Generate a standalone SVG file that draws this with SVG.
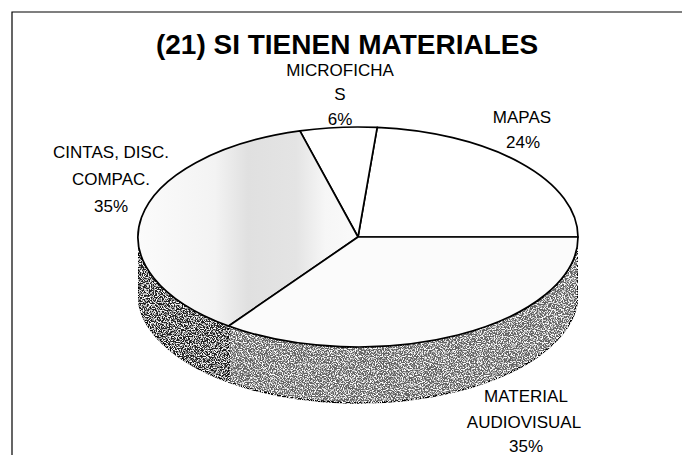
<svg xmlns="http://www.w3.org/2000/svg" width="682" height="455" viewBox="0 0 682 455">
<style>
.t{font-family:"Liberation Sans",Arial,sans-serif;fill:#000}
.title{font-size:28px;font-weight:bold}
.lbl{font-size:17px}
.edge{stroke:#000;stroke-width:1.7;stroke-linejoin:round}
</style>
<defs>
<linearGradient id="cintasG" x1="138" y1="0" x2="358" y2="0" gradientUnits="userSpaceOnUse">
<stop offset="0" stop-color="#fbfbfb"/>
<stop offset="0.35" stop-color="#f3f3f3"/>
<stop offset="0.5" stop-color="#e0e0e0"/>
<stop offset="0.72" stop-color="#e4e4e4"/>
<stop offset="0.85" stop-color="#f6f6f6"/>
<stop offset="1" stop-color="#fafafa"/>
</linearGradient>
<filter id="speck" x="0" y="0" width="100%" height="100%">
<feTurbulence type="fractalNoise" baseFrequency="0.85" numOctaves="2" seed="7" result="n"/>
<feColorMatrix in="n" type="matrix" values="0 0 0 0 1  0 0 0 0 1  0 0 0 0 1  5 0 0 0 -2.3" result="w"/>
<feComposite in="w" in2="SourceGraphic" operator="in" result="wc"/>
<feMerge><feMergeNode in="SourceGraphic"/><feMergeNode in="wc"/></feMerge>
</filter>
</defs>
<g id="frame"><path d="M12,455 L12,12 L682,12" fill="none" stroke="#000" stroke-width="1.2"/></g>
<g id="title"><text class="t title" x="347" y="54" text-anchor="middle">(21) SI TIENEN MATERIALES</text></g>
<g id="connectors"></g>
<g id="side-cintas"><path class="edge" d="M138,237 A220,110 0 0 0 228.7,326 L228.7,382 A220,110 0 0 1 138,293 Z" fill="#222" filter="url(#speck)"/></g>
<g id="side-audiovisual"><path class="edge" d="M228.7,326 A220,110 0 0 0 578,237 L578,293 A220,110 0 0 1 228.7,382 Z" fill="#646464" filter="url(#speck)"/></g>
<g id="slice-mapas"><path class="edge" d="M358,237 L578,237 A220,110 0 0 0 377.2,127.4 Z" fill="#fff"/></g>
<g id="slice-microfichas"><path class="edge" d="M358,237 L377.2,127.4 A220,110 0 0 0 299.9,130.9 Z" fill="#fff"/></g>
<g id="slice-cintas"><path class="edge" d="M358,237 L299.9,130.9 A220,110 0 0 0 228.7,326 Z" fill="url(#cintasG)"/></g>
<g id="slice-audiovisual"><path class="edge" d="M358,237 L228.7,326 A220,110 0 0 0 578,237 Z" fill="#fbfbfb"/></g>
<g id="label-microfichas">
<text class="t lbl" x="340" y="76" text-anchor="middle">MICROFICHA</text>
<text class="t lbl" x="340" y="100" text-anchor="middle">S</text>
<text class="t lbl" x="340" y="125" text-anchor="middle">6%</text>
</g>
<g id="label-mapas">
<text class="t lbl" x="522" y="123" text-anchor="middle">MAPAS</text>
<text class="t lbl" x="523" y="148" text-anchor="middle">24%</text>
</g>
<g id="label-cintas">
<text class="t lbl" x="111" y="158" text-anchor="middle">CINTAS, DISC.</text>
<text class="t lbl" x="111" y="185" text-anchor="middle">COMPAC.</text>
<text class="t lbl" x="111" y="212" text-anchor="middle">35%</text>
</g>
<g id="label-audiovisual">
<text class="t lbl" x="526" y="402" text-anchor="middle">MATERIAL</text>
<text class="t lbl" x="524" y="428" text-anchor="middle">AUDIOVISUAL</text>
<text class="t lbl" x="526" y="452" text-anchor="middle">35%</text>
</g>
</svg>
